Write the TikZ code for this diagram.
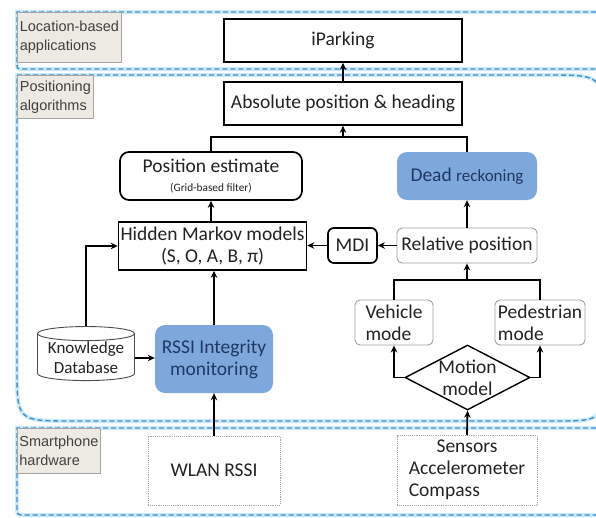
\documentclass[tikz,border=0pt]{standalone}
\usepackage{fontspec}
\setmainfont{Carlito}
\newfontfamily\tagfont{Liberation Sans}
\usetikzlibrary{shapes.geometric,arrows.meta}
\definecolor{zoneblue}{HTML}{3F8CCB}
\definecolor{zoneglow}{HTML}{CDEBF7}
\definecolor{tagfill}{HTML}{ECEAE2}
\definecolor{boxblue}{HTML}{7EA8DC}
\definecolor{navy}{HTML}{1F3864}
\definecolor{txt}{HTML}{222222}
\newcommand\fbig{\fontsize{19.5}{22}\selectfont}
\newcommand\fmid{\fontsize{17}{20}\selectfont}
\newcommand\fsmall{\fontsize{11.3}{13}\selectfont}
\begin{document}
\begin{tikzpicture}[x=1pt,y=-1pt,
  every node/.style={text=txt, font=\fbig},
  zone/.style={draw=zoneblue, line width=1.4pt, dash pattern=on 5pt off 3pt},
  glow/.style={draw=zoneglow, line width=4pt},
  tag/.style={draw=gray!70, fill=tagfill, line width=0.8pt, align=left,
    font=\tagfont\fontsize{14.5}{19}\selectfont, text=black!75, anchor=north west,
    inner sep=0pt},
  mainbox/.style={draw=black, line width=1.7pt, minimum width=#1, inner sep=2pt},
  softbox/.style={draw=black, line width=1.7pt, rounded corners=9pt, inner sep=2pt},
  bluebox/.style={fill=boxblue, rounded corners=10pt, text=navy, inner sep=2pt, align=center},
  thinbox/.style={draw=gray!75, line width=0.9pt, rounded corners=5pt, inner sep=2pt},
  dotbox/.style={draw=gray!70, line width=0.9pt, densely dotted, inner sep=2pt},
  link/.style={draw=black, line width=1.8pt},
  arr/.style={link, -{Stealth[length=7pt,width=6.5pt]}}
]
\useasboundingbox (0,0) rectangle (596,517);

% zone outlines
\foreach \s in {glow,zone}{
  \draw[\s] (612,12) -- (17,12) -- (17,63) .. controls (17,69) .. (23,69) -- (612,69);
  \draw[\s] (17,75) -- (548,75) .. controls (603,75) .. (603,130) -- (603,372)
    .. controls (603,421) .. (555,421) -- (72,421) .. controls (17,421) .. (17,368) -- cycle;
  \draw[\s] (612,428) -- (17,428) -- (17,507) .. controls (17,515) .. (25,515) -- (612,515);
}

% zone tags
\node[tag, minimum width=104pt, minimum height=50pt] (tagapp) at (17,12) {Location-based\\applications};
\node[tag, minimum width=76pt, minimum height=43pt] (tagpos) at (17,75) {Positioning\\algorithms};
\node[tag, minimum width=83pt, minimum height=45pt] (taghw) at (17,428) {Smartphone\\hardware};

% blocks
\node[mainbox=238pt, minimum height=43pt] (ipark) at (343,40.5) {iParking};
\node[mainbox=238pt, minimum height=43pt] (abs) at (343,103.5) {Absolute position \& heading};
\node[softbox, minimum width=182pt, minimum height=48pt, align=center] (pos) at (211,176)
  {Position estimate\\[-3pt]{\fsmall(Grid-based filter)}};
\node[bluebox, minimum width=140pt, minimum height=48pt] (dead) at (467,176)
  {Dead {\fmid reckoning}};
\node[mainbox=187pt, minimum height=48pt, align=center] (hmm) at (212.5,246)
  {Hidden Markov models\\(S, O, A, B, π)};
\node[softbox, rounded corners=6pt, minimum width=49pt, minimum height=35pt] (mdi) at (352.5,245.5) {MDI};
\node[thinbox, minimum width=140pt, minimum height=35pt] (rel) at (467,245.5) {Relative position};
\node[thinbox, minimum width=78pt, minimum height=45pt, align=left] (veh) at (394,322.5) {Vehicle\\mode};
\node[thinbox, minimum width=90pt, minimum height=45pt, align=left] (ped) at (540,322.5) {Pedestrian\\mode};
\node[diamond, draw=black, line width=1.4pt, minimum width=125pt, minimum height=65pt, inner sep=0pt] (motion) at (467.5,377.5) {};
\node[align=center, inner sep=0pt] (motiontext) at (467.5,378) {Motion\\model};
\node[cylinder, shape border rotate=90, aspect=0.18, draw=gray!60!black, line width=0.9pt,
  minimum width=97pt, minimum height=53pt, align=center, inner sep=1pt, font=\fmid] (kb) at (86,358)
  {Knowledge\\Database};
\node[bluebox, minimum width=118pt, minimum height=68pt] (rssi) at (214,359) {RSSI Integrity\\monitoring};
\node[dotbox, minimum width=132pt, minimum height=69pt] (wlan) at (214,470.5) {WLAN RSSI};
\node[dotbox, minimum width=140pt, minimum height=69pt] (sens) at (467,470.5)
  {\begin{tabular}{@{}l@{}}\multicolumn{1}{@{}c@{}}{Sensors}\\Accelerometer\\Compass\end{tabular}};

% connectors
\coordinate (topjoin) at (343,137);
\coordinate (modejoin) at (467,280);
\draw[arr] (abs) -- (ipark);
\draw[link] (pos.north) -- (pos.north |- topjoin) -- (dead.north |- topjoin) -- (dead.north);
\draw[arr] (topjoin) -- (abs.south);
\draw[arr] (hmm.north -| pos.north) -- (pos.south);
\draw[arr] (mdi.west) -- (mdi.west -| hmm.east);
\draw[arr] (rel.west) -- (mdi.east);
\draw[arr] (rel.north) -- (dead.south);
\draw[link] (veh.north) -- (veh.north |- modejoin) -- (ped.north |- modejoin) -- (ped.north);
\draw[arr] (modejoin) -- (rel.south);
\draw[arr] (motion.west) -| (veh.south);
\draw[arr] (motion.east) -| (ped.south);
\draw[arr] (sens.north) -- (motion.south);
\draw[arr] (wlan.north) -- (rssi.south);
\draw[arr] (rssi.north) -- (rssi.north |- hmm.south);
\draw[arr] (kb.east) -- (kb.east -| rssi.west);
\draw[arr] (kb.north) |- (hmm.west);
\end{tikzpicture}
\end{document}
